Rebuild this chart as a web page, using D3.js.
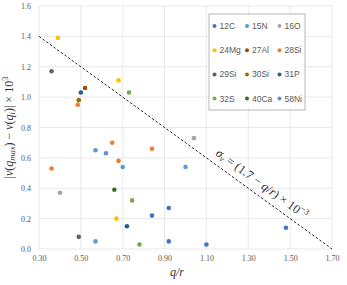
<!DOCTYPE html>
<html>
<head>
<meta charset="utf-8">
<script src="https://cdn.jsdelivr.net/npm/d3@7"></script>
<style>
  body { margin: 0; background: #fff; }
  .tick text { font-family: "Liberation Serif", serif; font-size: 8px; fill: #595959; }
</style>
</head>
<body>
<div id="chart"></div>
<script>
var svgWidth = 347;
var svgHeight = 285;

var margin = { top: 6, right: 15, bottom: 36, left: 39 };
var width = svgWidth - margin.left - margin.right;
var height = svgHeight - margin.top - margin.bottom;

// series names and colours (Excel-like palette)
var names = ["12C", "15N", "16O", "24Mg", "27Al", "28Si", "29Si", "30Si", "31P", "32S", "40Ca", "58Ni"];
var colors = ["#4472C4", "#5B9BD5", "#A5A5A5", "#FFC000", "#9E480E", "#ED7D31",
              "#636363", "#997300", "#255E91", "#70AD47", "#43682B", "#698ED0"];

// points: [q/r, |v(qmax) - v(qi)| x 10^3]
var c12 = [[0.84, 0.22], [0.92, 0.27], [0.92, 0.05], [1.10, 0.03], [1.48, 0.14]];
var n15 = [[0.57, 0.65], [0.70, 0.54], [1.00, 0.54], [0.57, 0.05]];
var o16 = [[1.04, 0.73], [0.40, 0.37]];
var mg24 = [[0.39, 1.39], [0.68, 1.11], [0.67, 0.20]];
var al27 = [[0.52, 1.06]];
var si28 = [[0.485, 0.95], [0.65, 0.70], [0.68, 0.58], [0.84, 0.66], [0.36, 0.53]];
var si29 = [[0.36, 1.17], [0.49, 0.08]];
var si30 = [[0.49, 0.98]];
var p31 = [[0.50, 1.03], [0.72, 0.15]];
var s32 = [[0.73, 1.03], [0.745, 0.32], [0.78, 0.03]];
var ca40 = [[0.66, 0.39]];
var ni58 = [[0.62, 0.63]];

var seriesValues = [c12, n15, o16, mg24, al27, si28, si29, si30, p31, s32, ca40, ni58];

var xTicks = [0.3, 0.5, 0.7, 0.9, 1.1, 1.3, 1.5, 1.7];
var yTicks = [0, 0.2, 0.4, 0.6, 0.8, 1.0, 1.2, 1.4, 1.6];

// dashed fit line sigma_v = 1.7 - q/r
var fitLine = [[0.3, 1.4], [1.7, 0]];

var svg = d3.select("#chart")
  .append("svg")
  .attr("width", svgWidth)
  .attr("height", svgHeight);

var chartGroup = svg.append("g")
  .attr("transform", `translate(${margin.left}, ${margin.top})`);

var xScale = d3.scaleLinear().domain([0.3, 1.7]).range([0, width]);
var yScale = d3.scaleLinear().domain([0, 1.6]).range([height, 0]);

// gridlines
chartGroup.append("g")
  .selectAll("line.v")
  .data(xTicks)
  .enter()
  .append("line")
  .attr("x1", d => xScale(d)).attr("x2", d => xScale(d))
  .attr("y1", 0).attr("y2", height)
  .attr("stroke", "#e3e3e3").attr("stroke-width", 0.8);

chartGroup.append("g")
  .selectAll("line.h")
  .data(yTicks)
  .enter()
  .append("line")
  .attr("x1", 0).attr("x2", width)
  .attr("y1", d => yScale(d)).attr("y2", d => yScale(d))
  .attr("stroke", "#e3e3e3").attr("stroke-width", 0.8);

// axes (labels only)
var bottomAxis = d3.axisBottom(xScale).tickValues(xTicks).tickFormat(d3.format(".2f")).tickSize(0).tickPadding(6);
var leftAxis = d3.axisLeft(yScale).tickValues(yTicks).tickFormat(d3.format(".1f")).tickSize(0).tickPadding(8);

chartGroup.append("g")
  .attr("transform", `translate(0, ${height})`)
  .call(bottomAxis)
  .call(g => g.select(".domain").remove());

chartGroup.append("g")
  .call(leftAxis)
  .call(g => g.select(".domain").remove());

// dashed line
chartGroup.append("line")
  .attr("x1", xScale(fitLine[0][0])).attr("y1", yScale(fitLine[0][1]))
  .attr("x2", xScale(fitLine[1][0])).attr("y2", yScale(fitLine[1][1]))
  .attr("stroke", "#222").attr("stroke-width", 1)
  .attr("stroke-dasharray", "2.5,2");

// line label
var angle = Math.atan2(yScale(fitLine[1][1]) - yScale(fitLine[0][1]),
                       xScale(fitLine[1][0]) - xScale(fitLine[0][0])) * 180 / Math.PI;
var lx = 1.12;
var label = chartGroup.append("text")
  .attr("transform", `translate(${xScale(lx)}, ${yScale(1.7 - lx)}) rotate(${angle})`)
  .attr("dy", -7.5)
  .attr("font-family", "Liberation Serif, serif")
  .attr("font-size", 12.5)
  .attr("fill", "#333");
label.append("tspan").attr("font-style", "italic").text("σ");
label.append("tspan").attr("font-style", "italic").attr("font-size", 8.5).attr("dy", 2).text("v");
label.append("tspan").attr("dy", -2).text(" = (1.7 − ");
label.append("tspan").attr("font-style", "italic").text("q");
label.append("tspan").text("/");
label.append("tspan").attr("font-style", "italic").text("r");
label.append("tspan").text(") × 10");
label.append("tspan").attr("font-size", 8.5).attr("dy", -5).text("−3");

// points
seriesValues.forEach(function(values, i) {
  chartGroup.append("g")
    .selectAll("circle")
    .data(values)
    .enter()
    .append("circle")
    .attr("cx", d => xScale(d[0]))
    .attr("cy", d => yScale(d[1]))
    .attr("r", 2.3)
    .attr("fill", colors[i]);
});

// legend
var legend = svg.append("g").attr("transform", "translate(209, 14)");
legend.append("rect")
  .attr("width", 96).attr("height", 96)
  .attr("fill", "#fff").attr("stroke", "#a6a6a6").attr("stroke-width", 0.8);

var legendItems = legend.selectAll("g.item")
  .data(names)
  .enter()
  .append("g")
  .attr("transform", (d, i) => `translate(${5.5 + (i % 3) * 32.5}, ${12 + Math.floor(i / 3) * 24.2})`);

legendItems.append("circle")
  .attr("r", 2)
  .attr("fill", (d, i) => colors[i]);

legendItems.append("text")
  .attr("x", 5)
  .attr("dy", "0.35em")
  .attr("font-family", "Liberation Sans, sans-serif")
  .attr("font-size", 8.5)
  .attr("fill", "#595959")
  .text(d => d);

// axis labels
var yLabel = svg.append("text")
  .attr("transform", `translate(13, ${margin.top + height / 2}) rotate(-90)`)
  .attr("text-anchor", "middle")
  .attr("font-family", "Liberation Serif, serif")
  .attr("font-size", 12)
  .attr("fill", "#333");
yLabel.append("tspan").text("|");
yLabel.append("tspan").attr("font-style", "italic").text("v");
yLabel.append("tspan").text("(");
yLabel.append("tspan").attr("font-style", "italic").text("q");
yLabel.append("tspan").attr("font-style", "italic").attr("font-size", 8.5).attr("dy", 2).text("max");
yLabel.append("tspan").attr("dy", -2).text(") − ");
yLabel.append("tspan").attr("font-style", "italic").text("v");
yLabel.append("tspan").text("(");
yLabel.append("tspan").attr("font-style", "italic").text("q");
yLabel.append("tspan").attr("font-style", "italic").attr("font-size", 8.5).attr("dy", 2).text("i");
yLabel.append("tspan").attr("dy", -2).text(")| × 10");
yLabel.append("tspan").attr("font-size", 8.5).attr("dy", -5).text("3");

svg.append("text")
  .attr("x", 177)
  .attr("y", 276)
  .attr("text-anchor", "middle")
  .attr("font-family", "Liberation Serif, serif")
  .attr("font-style", "italic")
  .attr("font-size", 12)
  .attr("fill", "#333")
  .text("q/r");
</script>
</body>
</html>
